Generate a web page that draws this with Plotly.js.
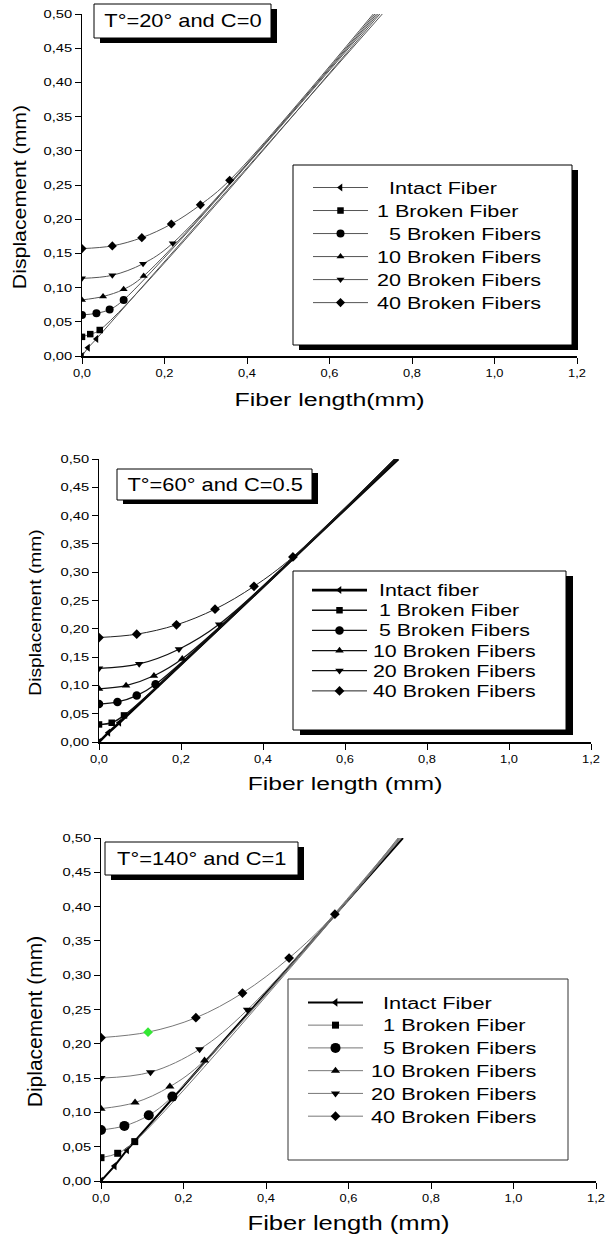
<!DOCTYPE html>
<html>
<head>
<meta charset="utf-8">
<script src="https://cdn.plot.ly/plotly-3.0.1.min.js"></script>
<style>
html,body{margin:0;padding:0;background:#fff;}
.js-plotly-plot .scrollbox{clip-path:none !important;}
.js-plotly-plot .legend .traces text,
.js-plotly-plot .legend2 .traces text,
.js-plotly-plot .legend3 .traces text{transform-box:fill-box;transform-origin:0 50%;}
.js-plotly-plot .legend .traces text{transform:translate(4px,0) scale(1.40,1.08);}
.js-plotly-plot .legend2 .traces text{transform:translate(1px,0) scale(1.62,1.2);}
.js-plotly-plot .legend3 .traces text{transform:translate(3px,0) scale(1.43,1.08);}
</style>
</head>
<body>
<div id="chart" style="width:606px;height:1240px"></div>
<script>
// ---------------- DATA ----------------
const seriesNames1 = ['\u2007Intact Fiber', '1 Broken Fiber', '\u20075 Broken Fibers', '10 Broken Fibers', '20 Broken Fibers', '40 Broken Fibers'];
const seriesNames2 = ['\u2009\u200AIntact fiber', '\u2009\u200A1 Broken Fiber', '\u2009\u200A5 Broken Fibers', '10 Broken Fibers', '20 Broken Fibers', '40 Broken Fibers'];
const seriesNames3 = ['\u2007Intact Fiber', '\u20071 Broken Fiber', '\u20075 Broken Fibers', '10 Broken Fibers', '20 Broken Fibers', '40 Broken Fibers'];
const panelTitles = ['T\u00b0=20\u00b0 and C=0', 'T\u00b0=60\u00b0 and C=0.5', 'T\u00b0=140\u00b0 and C=1'];
const xTitles = ['Fiber length(mm)', 'Fiber length (mm)', 'Fiber length (mm)'];
const yTitles = ['Displacement (mm)', 'Displacement (mm)', 'Diplacement (mm)'];

const xTickVals = [0, 0.2, 0.4, 0.6, 0.8, 1.0, 1.2];
const xTickText = ['0,0', '0,2', '0,4', '0,6', '0,8', '1,0', '1,2'];
const yTickVals = [0, 0.05, 0.10, 0.15, 0.20, 0.25, 0.30, 0.35, 0.40, 0.45, 0.50];
const yTickText = ['0,00', '0,05', '0,10', '0,15', '0,20', '0,25', '0,30', '0,35', '0,40', '0,45', '0,50'];

// Panel 1 : T=20, C=0  (series order: intact, 1, 5, 10, 20, 40 broken)
const p1X = [
  [0, 0.0145, 0.035],
  [0, 0.020, 0.043],
  [0, 0.035, 0.067, 0.101],
  [0, 0.051, 0.101, 0.1495],
  [0, 0.0735, 0.148, 0.220],
  [0, 0.0735, 0.145, 0.2166, 0.287, 0.358]
];
const p1Y = [
  [0, 0.012, 0.025],
  [0.028, 0.032, 0.038],
  [0.060, 0.0624, 0.068, 0.082],
  [0.082, 0.087, 0.0975, 0.117],
  [0.1135, 0.118, 0.135, 0.165],
  [0.157, 0.161, 0.173, 0.193, 0.221, 0.257]
];
const p1EndX = [0.728, 0.722, 0.718, 0.714, 0.710, 0.706];

// Panel 2 : T=60, C=0.5
const p2X = [
  [0, 0.0228, 0.0496],
  [0, 0.031, 0.061],
  [0, 0.045, 0.092, 0.138],
  [0, 0.066, 0.134, 0.203],
  [0, 0.098, 0.195, 0.293],
  [0, 0.092, 0.189, 0.283, 0.378, 0.473]
];
const p2Y = [
  [0, 0.0165, 0.034],
  [0.031, 0.034, 0.047],
  [0.067, 0.0708, 0.082, 0.102],
  [0.094, 0.0997, 0.117, 0.147],
  [0.130, 0.138, 0.164, 0.208],
  [0.1846, 0.1905, 0.207, 0.2347, 0.275, 0.327]
];
const p2EndX = [0.730, 0.728, 0.726, 0.724, 0.722, 0.720];

// Panel 3 : T=140, C=1
const p3X = [
  [0, 0.033, 0.063],
  [0, 0.0405, 0.0818],
  [0, 0.0567, 0.1158, 0.173],
  [0, 0.0826, 0.167, 0.251],
  [0, 0.120, 0.239, 0.355],
  [0, 0.114, 0.230, 0.343, 0.456, 0.567]
];
const p3Y = [
  [0, 0.0219, 0.0452],
  [0.034, 0.0404, 0.0574],
  [0.0744, 0.0803, 0.0958, 0.123],
  [0.1055, 0.1143, 0.1376, 0.1756],
  [0.150, 0.1586, 0.192, 0.2495],
  [0.209, 0.217, 0.238, 0.274, 0.325, 0.389]
];
const p3EndX = [0.732, 0.728, 0.726, 0.724, 0.722, 0.720];
const lineTopY = 0.5;

// ---------------- STYLE ----------------
const FONT = 'Liberation Sans, Arial, Helvetica, sans-serif';
const W = 606, H = 1240;
const px = v => v / W;
const py = v => 1 - v / H;
const symbols = ['triangle-left', 'square', 'circle', 'triangle-up', 'triangle-down', 'diamond'];

const panels = [
  {X: p1X, Y: p1Y, endX: p1EndX, names: seriesNames1, xa: 'x', ya: 'y', legend: 'legend',
   lineColor: ['#555', '#555', '#555', '#555', '#555', '#555'], lineWidth: [1, 1, 1, 1, 1, 1],
   msize: [7, 6.5, 8, 7, 7, 7], highlight: null},
  {X: p2X, Y: p2Y, endX: p2EndX, names: seriesNames2, xa: 'x2', ya: 'y2', legend: 'legend2',
   lineColor: ['#000', '#111', '#111', '#111', '#111', '#222'], lineWidth: [2.6, 1.4, 1.2, 1.2, 1.2, 1],
   msize: [7, 6.5, 8.5, 7.5, 7.5, 7.5], highlight: null},
  {X: p3X, Y: p3Y, endX: p3EndX, names: seriesNames3, xa: 'x3', ya: 'y3', legend: 'legend3',
   lineColor: ['#000', '#777', '#777', '#777', '#777', '#777'], lineWidth: [2, 1, 1, 1, 1, 1],
   msize: [7.5, 7, 10, 8, 8, 7.5], highlight: [5, 1]}
];

const traces = [];
panels.forEach(p => {
  p.X.forEach((xs, i) => {
    const x = xs.concat([p.endX[i]]);
    const y = p.Y[i].concat([lineTopY]);
    const colors = x.map((_, k) => {
      if (k === x.length - 1) return 'rgba(0,0,0,0)';
      if (p.highlight && p.highlight[0] === i && p.highlight[1] === k) return '#33e833';
      return '#000';
    });
    traces.push({
      type: 'scatter', mode: 'lines+markers', name: p.names[i],
      x: x, y: y, xaxis: p.xa, yaxis: p.ya, legend: p.legend,
      line: {color: p.lineColor[i], width: p.lineWidth[i], shape: i === 0 ? 'linear' : 'spline', smoothing: 1},
      marker: {symbol: symbols[i], size: p.msize[i], color: colors, line: {width: 0}},
      cliponaxis: true, hoverinfo: 'skip'
    });
  });
});

// plot areas in pixels: [left, right, top, bottom]
const areas = [[82, 577, 14, 356], [99, 591, 459, 742], [101, 596, 838, 1181]];
const tickFont = {family: FONT, size: 11.5, color: '#000'};
function xAxis(a, title, tsize, standoff, anchor) {
  return {
    domain: [px(a[0]), px(a[1])], anchor: anchor, range: [0, 1.2],
    tickmode: 'array', tickvals: xTickVals, ticktext: xTickText,
    showgrid: false, zeroline: false, showline: true, linecolor: '#000', linewidth: 1.5,
    ticks: 'outside', ticklen: 6, tickwidth: 1, tickcolor: '#000', tickfont: tickFont,
    title: {text: title, font: {family: FONT, size: tsize, color: '#000'}, standoff: standoff},
    automargin: false, fixedrange: true
  };
}
function yAxis(a, title, tsize, standoff, anchor) {
  return {
    domain: [py(a[3]), py(a[2])], anchor: anchor, range: [0, 0.5],
    tickmode: 'array', tickvals: yTickVals, ticktext: yTickText,
    showgrid: false, zeroline: false, showline: true, linecolor: '#000', linewidth: 1.5,
    ticks: 'outside', ticklen: 6, tickwidth: 1, tickcolor: '#000', tickfont: tickFont,
    title: {text: title, font: {family: FONT, size: tsize, color: '#000'}, standoff: standoff},
    automargin: false, fixedrange: true
  };
}

function box(x0, y0, x1, y1, sdx, sdy, lineColor) {
  const out = [];
  if (sdx || sdy) {
    out.push({type: 'rect', xref: 'paper', yref: 'paper', layer: 'above',
      x0: px(x0 + sdx), x1: px(x1 + sdx), y0: py(y1 + sdy), y1: py(y0 + sdy),
      fillcolor: '#000', line: {width: 0}});
  }
  out.push({type: 'rect', xref: 'paper', yref: 'paper', layer: 'above',
    x0: px(x0), x1: px(x1), y0: py(y1), y1: py(y0),
    fillcolor: '#fff', line: {color: lineColor || '#000', width: 1}});
  return out;
}

const shapes = [].concat(
  box(94, 4, 271, 38, 6, 5),
  box(117, 469, 312, 500, 6, 4),
  box(105, 842, 298, 875, 6, 5),
  box(293, 165, 572, 345, 6, 5),
  box(293, 571, 566, 730, 7, 5),
  box(288, 979, 568, 1160, 0, 0, '#333')
);

const annFont = {family: FONT, size: 17.5, color: '#000'};
const annotations = [
  {text: panelTitles[0], x: px(182.5), y: py(21), xref: 'paper', yref: 'paper', showarrow: false, font: annFont, xanchor: 'center', yanchor: 'middle'},
  {text: panelTitles[1], x: px(214.5), y: py(484.5), xref: 'paper', yref: 'paper', showarrow: false, font: annFont, xanchor: 'center', yanchor: 'middle'},
  {text: panelTitles[2], x: px(201.5), y: py(858.5), xref: 'paper', yref: 'paper', showarrow: false, font: annFont, xanchor: 'center', yanchor: 'middle'}
];

function legendCfg(x, y, size) {
  return {x: px(x), y: py(y), xanchor: 'left', yanchor: 'top', xref: 'paper', yref: 'paper',
    bgcolor: 'rgba(0,0,0,0)', borderwidth: 0, itemwidth: 55, tracegroupgap: 0,
    font: {family: FONT, size: size, color: '#000'}, itemclick: false, itemdoubleclick: false};
}

const layout = {
  width: W, height: H, margin: {l: 0, r: 0, t: 0, b: 0, pad: 0},
  paper_bgcolor: '#fff', plot_bgcolor: 'rgba(0,0,0,0)', hovermode: false,
  font: {family: FONT, color: '#000'},
  xaxis: xAxis(areas[0], xTitles[0], 18.5, 15, 'y'),
  yaxis: yAxis(areas[0], yTitles[0], 18.5, 18, 'x'),
  xaxis2: xAxis(areas[1], xTitles[1], 19, 12, 'y2'),
  yaxis2: yAxis(areas[1], yTitles[1], 17, 21, 'x2'),
  xaxis3: xAxis(areas[2], xTitles[2], 21, 12, 'y3'),
  yaxis3: yAxis(areas[2], yTitles[2], 20, 21, 'x3'),
  legend: legendCfg(308, 171, 15.4),
  legend2: legendCfg(307, 575, 13.2),
  legend3: legendCfg(303, 986, 15.2),
  showlegend: true,
  shapes: shapes,
  annotations: annotations
};

// ------- text stretch (reference lettering is horizontally wide) -------
function panelOf(el) {
  const r = el.getBoundingClientRect();
  const c = (r.top + r.bottom) / 2;
  return c < 420 ? 0 : (c < 810 ? 1 : 2);
}
const rules = [
  ['.xaxislayer-above text', () => [1.12, 1, 0, 0]],
  ['.yaxislayer-above text', () => [1.28, 1, 0, 0]],
  ['.annotation-text', () => [1.25, 1, 0, 0]],
  ['text.xtitle, text.x2title, text.x3title', p => [[1.35, 1, 0, 0], [1.3, 1, 0, 0], [1.22, 1, 0, 0]][p] || [1, 1, 0, 0]],
  ['text.ytitle, text.y2title, text.y3title', p => [[1.15, 1, 0, 12], [1.13, 1, 0, 12], [1.05, 1, 0, 12]][p] || [1, 1, 0, 0]]
];
function applyStretch() {
  rules.forEach(([sel, fn]) => {
    document.querySelectorAll(sel).forEach(el => {
      try {
        if (!el.hasAttribute('data-ot')) el.setAttribute('data-ot', el.getAttribute('transform') || '');
        const ot = el.getAttribute('data-ot');
        const [sx, sy, dx, dy] = fn(panelOf(el));
        const X = parseFloat(el.getAttribute('x')) || 0;
        const Y = parseFloat(el.getAttribute('y')) || 0;
        const t = ('translate(' + dx + ',' + dy + ') ' + ot + ' translate(' + X + ',' + Y + ') scale(' + sx + ',' + sy + ') translate(' + (-X) + ',' + (-Y) + ')').trim();
        if (el.getAttribute('transform') !== t) el.setAttribute('transform', t);
      } catch (e) {}
    });
  });
}

const gdiv = document.getElementById('chart');
Plotly.newPlot(gdiv, traces, layout, {staticPlot: true, displayModeBar: false}).then(() => {
  applyStretch();
  setTimeout(applyStretch, 30);
  setTimeout(applyStretch, 300);
});
</script>
</body>
</html>
